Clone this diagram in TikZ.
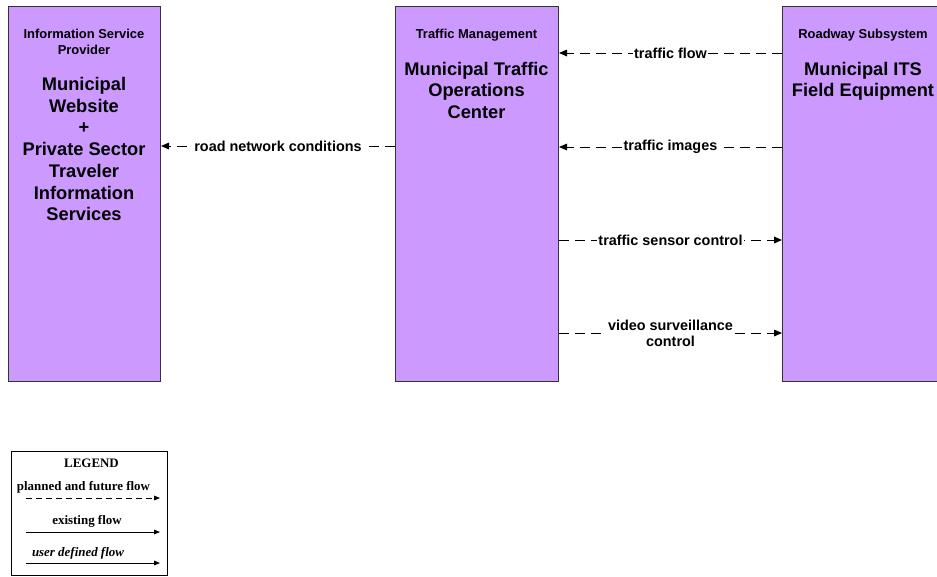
\documentclass[tikz,border=0pt]{standalone}
\usepackage{fontspec}
\setmainfont{Liberation Sans}
\newfontfamily\legendfont{Liberation Serif}
\usetikzlibrary{arrows.meta}
\definecolor{boxfill}{HTML}{CC99FF}
\definecolor{boxline}{HTML}{333333}
\begin{document}
\begin{tikzpicture}[x=0.75pt,y=-0.75pt,
  sysbox/.style={draw=boxline, fill=boxfill, line width=0.75pt, anchor=north west, inner sep=0pt},
  hdr/.style={font=\bfseries\fontsize{9.7}{12}\selectfont, align=center, inner sep=0pt, anchor=north},
  ttl/.style={font=\bfseries\fontsize{13.7}{16.3}\selectfont, align=center, inner sep=0pt, anchor=north},
  flow/.style={dash pattern=on 7.5pt off 4.5pt, line width=0.75pt, -{Triangle[length=6pt,width=5pt]}},
  lbl/.style={font=\bfseries\fontsize{10.8}{12}\selectfont, fill=white, inner sep=1pt, align=center},
  legt/.style={font=\legendfont\bfseries\fontsize{9.7}{11}\selectfont, inner sep=0pt},
  legdash/.style={dash pattern=on 4.5pt off 3pt, line width=0.75pt, -{Triangle[length=4.5pt,width=3.5pt]}},
  legsolid/.style={line width=0.75pt, -{Triangle[length=4.5pt,width=3.5pt]}},
]
\useasboundingbox (0,0) rectangle (937,576);

% system boxes
\node[sysbox, minimum width=114pt, minimum height=281.25pt] (isp) at (8,6) {};
\node[sysbox, minimum width=122.25pt, minimum height=281.25pt] (tm) at (395,6) {};
\node[sysbox, minimum width=121.5pt, minimum height=281.25pt] (rw) at (782,6) {};

% box texts
\node[hdr] (isph) at (84,29) {Information Service\\Provider};
\node[ttl] (ispt) at (84,77) {Municipal\\Website\\+\\Private Sector\\Traveler\\Information\\Services};
\node[hdr] (tmh) at (476.5,29) {Traffic Management};
\node[ttl] (tmt) at (476.5,61.5) {Municipal Traffic\\Operations\\Center};
\node[hdr] (rwh) at (863,29) {Roadway Subsystem};
\node[ttl] (rwt) at (863,61.5) {Municipal ITS\\Field Equipment};

% flow levels
\coordinate (yf) at (0,53);
\coordinate (yi) at (0,147);
\coordinate (yr) at (0,146);
\coordinate (ys) at (0,240);
\coordinate (yv) at (0,333);

\draw[flow] (rw.west |- yf) -- node[lbl] (lf) {traffic flow} (tm.east |- yf);
\draw[flow] (rw.west |- yi) -- node[lbl] (li) {traffic images} (tm.east |- yi);
\draw[flow] (tm.east |- ys) -- node[lbl] (ls) {traffic sensor control} (rw.west |- ys);
\draw[flow] (tm.east |- yv) -- node[lbl] (lv) {video surveillance\\control} (rw.west |- yv);
\draw[flow] (tm.west |- yr) -- node[lbl] (lr) {road network conditions} (isp.east |- yr);

% legend
\node[draw=black, line width=0.75pt, anchor=north west, inner sep=0pt, minimum width=117pt, minimum height=93pt] (leg) at (11,451) {};
\node[legt] (legtitle) at (91.5,463) {LEGEND};
\node[legt] (leg1) at (83.5,487) {planned and future flow};
\node[legt] (leg2) at (87,521) {existing flow};
\node[legt, font=\legendfont\bfseries\itshape\fontsize{9.7}{11}\selectfont] (leg3) at (78,553) {user defined flow};
\coordinate (l1a) at (26,498); \coordinate (l1b) at (160,498);
\coordinate (l2a) at (26,532); \coordinate (l2b) at (160,532);
\coordinate (l3a) at (26,563); \coordinate (l3b) at (160,563);
\draw[legdash] (l1a) -- (l1b);
\draw[legsolid] (l2a) -- (l2b);
\draw[legsolid] (l3a) -- (l3b);
\end{tikzpicture}
\end{document}
